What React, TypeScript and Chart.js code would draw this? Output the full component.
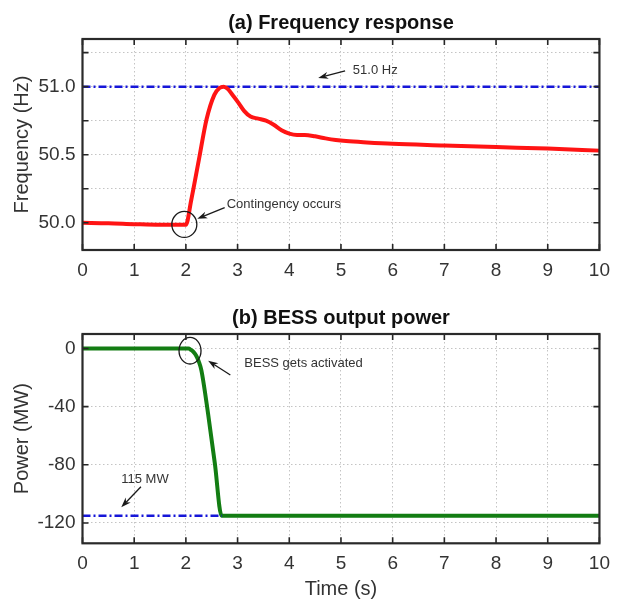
import React, { useEffect, useRef } from 'react';
import { Chart, registerables } from 'chart.js';

Chart.register(...registerables);

const FONT = "'Liberation Sans', Arial, Helvetica, sans-serif";

// ---- data ----
const timeTicks = [0, 1, 2, 3, 4, 5, 6, 7, 8, 9, 10];

const freqTime = [0, 0.5, 1, 1.5, 2.0, 2.1, 2.25, 2.4, 2.55, 2.65, 2.73, 2.82, 2.9, 3.0, 3.13, 3.25, 3.4, 3.55, 3.7, 3.85, 4.0, 4.15, 4.3, 4.5, 4.7, 4.9, 5.1, 5.5, 6, 7, 8, 9, 10];
const freqValues = [50.0, 49.997, 49.99, 49.985, 49.985, 50.16, 50.46, 50.76, 50.94, 50.99, 51.0, 50.98, 50.94, 50.89, 50.82, 50.78, 50.765, 50.75, 50.72, 50.68, 50.655, 50.645, 50.645, 50.635, 50.62, 50.608, 50.6, 50.59, 50.58, 50.568, 50.556, 50.545, 50.53];
const freqLimitTime = [0, 10];
const freqLimitValue = [51.0, 51.0];
const freqTicks = [50.0, 50.25, 50.5, 50.75, 51.0, 51.25];
const freqTickLabels = ['50.0', '', '50.5', '', '51.0', ''];

const bessTime = [0, 2.05, 2.1, 2.15, 2.2, 2.25, 2.3, 2.43, 2.56, 2.69, 10];
const bessPower = [0, 0, -1, -2.5, -5, -9, -15, -45, -79, -115, -115];
const bessLimitTime = [0, 2.7];
const bessLimitValue = [-115, -115];
const powerTicks = [-120, -80, -40, 0];
const powerTickLabels = ['-120', '-80', '-40', '0'];

// ---- annotations (data units) ----
const freqNotes = [
  { kind: 'text', text: '51.0 Hz', x: 5.23, y: 51.122 },
  { kind: 'arrow', from: [5.08, 51.115], to: [4.56, 51.064] },
  { kind: 'ellipse', x: 1.97, y: 49.988, rx: 12.5, ry: 13 },
  { kind: 'text', text: 'Contingency occurs', x: 2.79, y: 50.134 },
  { kind: 'arrow', from: [2.75, 50.112], to: [2.22, 50.03] },
];
const bessNotes = [
  { kind: 'ellipse', x: 2.08, y: -1.5, rx: 11, ry: 13.3 },
  { kind: 'text', text: 'BESS gets activated', x: 3.13, y: -10.2 },
  { kind: 'arrow', from: [2.86, -18.2], to: [2.43, -8.4] },
  { kind: 'text', text: '115 MW', x: 0.75, y: -89.8 },
  { kind: 'arrow', from: [1.13, -95.1], to: [0.75, -109.2] },
];

function makeFramePlugin(notes: any[]) {
  return {
    id: 'frameNotes',
    afterDatasetsDraw(chart: any) {
      const { ctx, chartArea: a, scales } = chart;
      const xs = scales.x;
      const ys = scales.y;
      ctx.save();
      // annotations
      ctx.strokeStyle = '#1a1a1a';
      ctx.fillStyle = '#1a1a1a';
      for (const n of notes) {
        if (n.kind === 'text') {
          ctx.font = `13px ${FONT}`;
          ctx.fillStyle = '#333';
          ctx.textAlign = 'left';
          ctx.textBaseline = 'middle';
          ctx.fillText(n.text, xs.getPixelForValue(n.x), ys.getPixelForValue(n.y));
        } else if (n.kind === 'ellipse') {
          ctx.lineWidth = 1.3;
          ctx.strokeStyle = '#1a1a1a';
          ctx.beginPath();
          ctx.ellipse(xs.getPixelForValue(n.x), ys.getPixelForValue(n.y), n.rx, n.ry, 0, 0, Math.PI * 2);
          ctx.stroke();
        } else if (n.kind === 'arrow') {
          const x1 = xs.getPixelForValue(n.from[0]);
          const y1 = ys.getPixelForValue(n.from[1]);
          const x2 = xs.getPixelForValue(n.to[0]);
          const y2 = ys.getPixelForValue(n.to[1]);
          const ang = Math.atan2(y2 - y1, x2 - x1);
          const hl = 10;
          const hw = 3.5;
          ctx.lineWidth = 1.3;
          ctx.strokeStyle = '#1a1a1a';
          ctx.beginPath();
          ctx.moveTo(x1, y1);
          ctx.lineTo(x2 - Math.cos(ang) * hl * 0.7, y2 - Math.sin(ang) * hl * 0.7);
          ctx.stroke();
          const bx = x2 - Math.cos(ang) * hl;
          const by = y2 - Math.sin(ang) * hl;
          ctx.fillStyle = '#1a1a1a';
          ctx.beginPath();
          ctx.moveTo(x2, y2);
          ctx.lineTo(bx + Math.sin(ang) * hw, by - Math.cos(ang) * hw);
          ctx.lineTo(x2 - Math.cos(ang) * hl * 0.7, y2 - Math.sin(ang) * hl * 0.7);
          ctx.lineTo(bx - Math.sin(ang) * hw, by + Math.cos(ang) * hw);
          ctx.closePath();
          ctx.fill();
        }
      }
      // inward tick marks
      ctx.strokeStyle = '#262626';
      ctx.lineWidth = 1.6;
      const L = 6;
      ctx.beginPath();
      xs.ticks.forEach((t: any) => {
        const px = xs.getPixelForValue(t.value);
        ctx.moveTo(px, a.bottom);
        ctx.lineTo(px, a.bottom - L);
        ctx.moveTo(px, a.top);
        ctx.lineTo(px, a.top + L);
      });
      ys.ticks.forEach((t: any) => {
        const py = ys.getPixelForValue(t.value);
        ctx.moveTo(a.left, py);
        ctx.lineTo(a.left + L, py);
        ctx.moveTo(a.right, py);
        ctx.lineTo(a.right - L, py);
      });
      ctx.stroke();
      // frame
      ctx.lineWidth = 2.2;
      ctx.strokeStyle = '#2a2a2a';
      ctx.strokeRect(a.left, a.top, a.right - a.left, a.bottom - a.top);
      ctx.restore();
    },
  };
}

const gridCommon = { color: '#c4c4c4', lineWidth: 1, drawTicks: false };
const borderCommon = { display: false, dash: [1.5, 2.5] };

function xScale(withTitle: boolean, height: number) {
  return {
    type: 'linear',
    min: 0,
    max: 10,
    afterBuildTicks: (s: any) => { s.ticks = timeTicks.map((v) => ({ value: v })); },
    afterFit: (s: any) => { s.height = height; },
    grid: gridCommon,
    border: borderCommon,
    ticks: {
      padding: 9,
      color: '#333',
      font: { size: 19, family: FONT },
      maxRotation: 0,
      callback: (v: any) => String(v),
    },
    title: {
      display: withTitle,
      text: 'Time (s)',
      color: '#333',
      font: { size: 20, family: FONT },
      padding: { top: 0, bottom: 2 },
    },
  };
}

function yScale(min: number, max: number, ticks: number[], labels: string[], title: string) {
  return {
    type: 'linear',
    min,
    max,
    afterBuildTicks: (s: any) => { s.ticks = ticks.map((v) => ({ value: v })); },
    afterFit: (s: any) => { s.width = 82.5; },
    grid: gridCommon,
    border: borderCommon,
    ticks: {
      padding: 7,
      color: '#333',
      font: { size: 19, family: FONT },
      callback: (_v: any, i: number) => labels[i],
    },
    title: {
      display: true,
      text: title,
      color: '#333',
      font: { size: 20, family: FONT },
      padding: { top: 10, bottom: 0 },
    },
  };
}

function FreqChart() {
  const ref = useRef<HTMLCanvasElement>(null);
  useEffect(() => {
    const chart = new Chart(ref.current as HTMLCanvasElement, {
      type: 'line',
      data: {
        datasets: [
          {
            data: freqTime.map((t, i) => ({ x: t, y: freqValues[i] })),
            borderColor: '#ff1414',
            borderWidth: 4,
            pointRadius: 0,
            cubicInterpolationMode: 'monotone',
          },
          {
            data: freqLimitTime.map((t, i) => ({ x: t, y: freqLimitValue[i] })),
            borderColor: '#1616d8',
            borderWidth: 2.5,
            borderDash: [8, 3, 2, 3],
            pointRadius: 0,
          },
        ],
      },
      options: {
        animation: false,
        responsive: false,
        events: [],
        layout: { padding: { left: 0, right: 11.5, top: 0, bottom: 0 } },
        plugins: {
          legend: { display: false },
          tooltip: { enabled: false },
          title: {
            display: true,
            fullSize: false,
            text: '(a) Frequency response',
            color: '#111',
            font: { size: 20, weight: 'bold', family: FONT },
            padding: { top: 11.3, bottom: 3.7 },
          },
        },
        scales: {
          x: xScale(false, 50),
          y: yScale(49.8, 51.35, freqTicks, freqTickLabels, 'Frequency (Hz)'),
        },
      } as any,
      plugins: [makeFramePlugin(freqNotes)],
    } as any);
    return () => chart.destroy();
  }, []);
  return <canvas ref={ref} width={619} height={300} style={{ display: 'block', position: 'absolute', left: 0, top: 0 }} />;
}

function BessChart() {
  const ref = useRef<HTMLCanvasElement>(null);
  useEffect(() => {
    const chart = new Chart(ref.current as HTMLCanvasElement, {
      type: 'line',
      data: {
        datasets: [
          {
            data: bessLimitTime.map((t, i) => ({ x: t, y: bessLimitValue[i] })),
            borderColor: '#1616d8',
            borderWidth: 2.5,
            borderDash: [8, 3, 2, 3],
            pointRadius: 0,
          },
          {
            data: bessTime.map((t, i) => ({ x: t, y: bessPower[i] })),
            borderColor: '#137d13',
            borderWidth: 4,
            pointRadius: 0,
            cubicInterpolationMode: 'monotone',
          },
        ],
      },
      options: {
        animation: false,
        responsive: false,
        events: [],
        layout: { padding: { left: 0, right: 11.5, top: 0, bottom: 0 } },
        plugins: {
          legend: { display: false },
          tooltip: { enabled: false },
          title: {
            display: true,
            fullSize: false,
            text: '(b) BESS output power',
            color: '#111',
            font: { size: 20, weight: 'bold', family: FONT },
            padding: { top: 6.5, bottom: 3.5 },
          },
        },
        scales: {
          x: xScale(true, 59.7),
          y: yScale(-134, 10, powerTicks, powerTickLabels, 'Power (MW)'),
        },
      } as any,
      plugins: [makeFramePlugin(bessNotes)],
    } as any);
    return () => chart.destroy();
  }, []);
  return <canvas ref={ref} width={619} height={303} style={{ display: 'block', position: 'absolute', left: 0, top: 300 }} />;
}

export default function App() {
  return (
    <div style={{ position: 'absolute', left: 0, top: 0, width: 619, height: 603, background: '#fff' }}>
      <FreqChart />
      <BessChart />
    </div>
  );
}
